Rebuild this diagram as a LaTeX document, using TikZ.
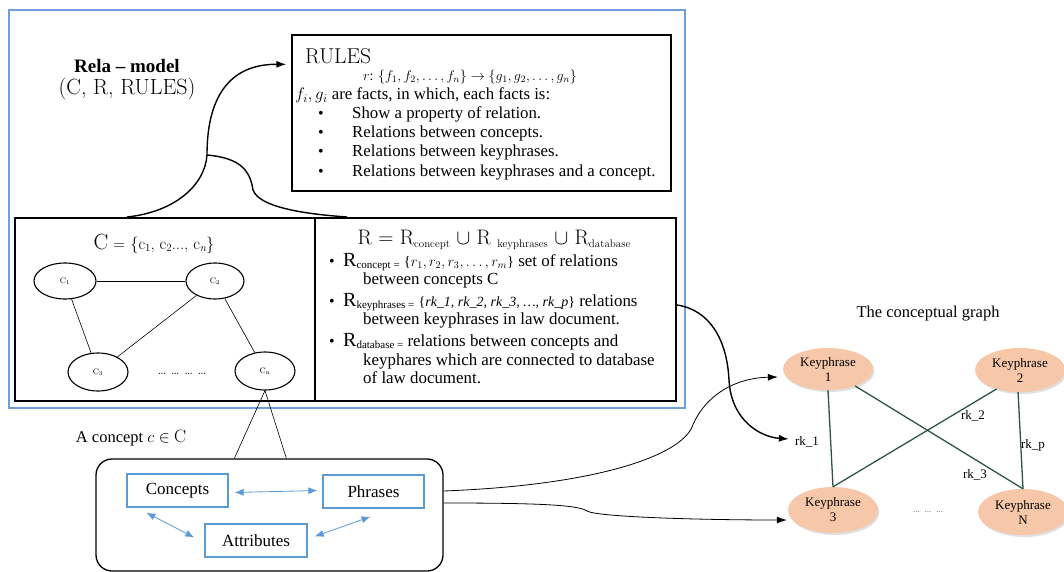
\RequirePackage{fix-cm}
\documentclass[tikz,border=0pt]{standalone}
\usepackage{fontspec}
\newfontfamily\tnr{Liberation Serif}
\usetikzlibrary{arrows.meta,calc,shadows,shapes.geometric}
\definecolor{outerblue}{RGB}{112,160,220}
\definecolor{boxblue}{RGB}{91,155,213}
\definecolor{peach}{RGB}{246,199,168}
\definecolor{edgegreen}{RGB}{46,84,74}
\newcommand{\fs}[1]{\fontsize{#1}{#1}\selectfont}
\newcommand{\lsub}[1]{\raisebox{-0.3ex}{\fs{11}#1}}
\begin{document}
\begin{tikzpicture}[x=1pt,y=-1pt,
  txt/.style={inner sep=0pt, text height=11pt, text depth=3pt, anchor=west, font=\tnr\fs{16.8}},
  rtxt/.style={inner sep=0pt, text height=11pt, text depth=3pt, anchor=west, font=\tnr\fs{16.9}},
  bul/.style={inner sep=0pt, text height=11pt, text depth=3pt, anchor=west, font=\tnr\fs{16}},
  blackbox/.style={draw=black, line width=1.3pt, inner sep=0pt},
  thickbox/.style={draw=black, line width=2pt, inner sep=0pt},
  cell/.style={ellipse, draw=black, line width=1.1pt, inner sep=0pt, font=\fs{8}},
  bbox/.style={draw=boxblue, line width=1.3pt, inner sep=0pt, minimum width=101pt, minimum height=33pt, font=\tnr\fs{17}},
  barrow/.style={draw=boxblue, line width=0.8pt, {Latex[length=9pt,width=7pt]}-{Latex[length=9pt,width=7pt]}},
  arr/.style={draw=black, line width=1.4pt, -{Latex[length=10pt,width=7pt]}},
  arrthin/.style={draw=black, line width=0.8pt, -{Latex[length=10pt,width=7pt]}},
  kp/.style={ellipse, fill=peach, inner sep=0pt, minimum width=90pt, align=center, font=\tnr\fontsize{13}{15}\selectfont,
     drop shadow={shadow xshift=1.5pt, shadow yshift=-2pt, opacity=0.25, fill=black!50}},
  kedge/.style={draw=edgegreen, line width=1.3pt},
  rl/.style={font=\tnr\fs{13}, inner sep=1pt}
]
\useasboundingbox (0,0) rectangle (1064,572);

% outer blue frame
\node[draw=outerblue, line width=1.5pt, minimum width=676pt, minimum height=398pt, inner sep=0pt] (outer) at (347,209) {};

% title
\node[font=\tnr\bfseries\fs{19}, inner sep=0pt] (rela) at (127,66) {Rela \textendash\ model};
\node[font=\fs{22}, inner sep=0pt] (crr) at (127,89) {(C, R, RULES)};

% RULES box
\node[blackbox, minimum width=379pt, minimum height=156pt] (rules) at (481.5,113) {};
\node[anchor=west, font=\fs{21.5}, inner sep=0pt] (rulest) at (305,56) {RULES};
\node[font=\tnr\fs{14}, inner sep=0pt] (rulef) at (470,77) {$r$: $\{f_1,f_2,\ldots,f_n\}\rightarrow\{g_1,g_2,\ldots,g_n\}$};
\node[txt] (fg) at (295,96) {$f_i,g_i$ are facts, in which, each facts is:};
\node[bul] (rb1) at (318,115) {\textbullet};
\node[txt] (rt1) at (352,115) {Show a property of relation.};
\node[bul] (rb2) at (318,134) {\textbullet};
\node[txt] (rt2) at (352,134) {Relations between concepts.};
\node[bul] (rb3) at (318,153) {\textbullet};
\node[txt] (rt3) at (352,153) {Relations between keyphrases.};
\node[bul] (rb4) at (318,172) {\textbullet};
\node[txt] (rt4) at (352,172) {Relations between keyphrases and a concept.};

% C box
\node[thickbox, minimum width=300pt, minimum height=183pt] (cbox) at (165,309.5) {};
\node[font=\fs{16.5}] (ctitle) at (154,244) {{\fs{22}C} = \{c\lsub{1}, c\lsub{2}..., c\lsub{\itshape n}\}};
\node[cell, minimum width=62pt, minimum height=36pt] (c1) at (65,281) {C\textsubscript{1}};
\node[cell, minimum width=58pt, minimum height=36pt] (c2) at (215,281) {C\textsubscript{2}};
\node[cell, minimum width=60pt, minimum height=38pt] (c3) at (98,372) {C\textsubscript{3}};
\node[cell, minimum width=60pt, minimum height=38pt] (cn) at (265,371) {C\textsubscript{n}};
\draw[line width=0.9pt] (c1) -- (c2);
\draw[line width=0.6pt] (c1) -- (c3);
\draw[line width=0.6pt] (c2) -- (c3);
\draw[line width=0.6pt] (c2) -- (cn);
\node[font=\fs{15}] (cdots) at (182,374) {\ldots\ \ldots\ \ldots\ \ldots};

% R box
\node[thickbox, minimum width=361pt, minimum height=183pt] (rbox) at (495.5,309.5) {};
\node[font=\fs{21}, inner sep=0pt] (rhead) at (494,240) {R = R\lsub{concept} $\cup$ R \lsub{keyphrases} $\cup$ R\lsub{database}};
\node[bul] (bb1) at (329,262) {\textbullet};
\node[rtxt] (r1) at (343,262) {{\fs{20}R}\lsub{concept =} {\fs{14.5}\{$r_1, r_2, r_3, \ldots, r_m$\}} set of relations};
\node[rtxt] (r2) at (363,280) {between concepts C};
\node[bul] (bb2) at (329,302) {\textbullet};
\node[rtxt] (r3) at (343,302) {{\fs{20}R}\lsub{keyphrases =} {\fs{14}\{\textit{rk\_1, rk\_2, rk\_3, \ldots, rk\_p}\}} relations};
\node[rtxt] (r4) at (363,320) {between keyphrases in law document.};
\node[bul] (bb3) at (329,342) {\textbullet};
\node[rtxt] (r5) at (343,342) {{\fs{20}R}\lsub{database =} relations between concepts and};
\node[rtxt] (r6) at (363,361) {keyphares which are connected to database};
\node[rtxt] (r7) at (363,379) {of law document.};

% connectors to RULES
\coordinate (J) at (207,155);
\draw[arr] ($(cbox.north west)+(113,0)$) .. controls (175,212) and (205,185) .. (J)
   .. controls (207,90) and (235,64) .. ($(rules.north west)+(-5,30)$);
\draw[line width=1.4pt] (J) .. controls (240,158) and (250,170) .. (253,190)
   .. controls (260,210) and (320,215) .. ($(rbox.north west)+(33,0)$);

% concept detail
\node[font=\tnr\fs{16.5}] (acon) at (131,438) {A concept $c \in$ {\rmfamily\fs{18}C}};
\node[draw=black, line width=1.3pt, rounded corners=16pt, minimum width=347pt, minimum height=112pt, inner sep=0pt] (cpt) at (269.5,515) {};
\draw[line width=0.6pt] (cn.south) -- ($(cpt.north west)+(139,0)$);
\draw[line width=0.6pt] (cn.south) -- ($(cpt.north west)+(191,0)$);
\node[bbox] (concepts) at (177.5,490.5) {Concepts};
\node[bbox] (phrases) at (373.5,491.5) {Phrases};
\node[bbox, minimum width=102pt] (attributes) at (256,540.5) {Attributes};
\draw[barrow] ($(concepts.east)+(6,2)$) -- ($(phrases.west)+(-5,-1)$);
\draw[barrow] ($(concepts.south west)+(20,5)$) -- ($(attributes.west)+(-10,-3)$);
\draw[barrow] ($(phrases.south)+(-3,8)$) -- ($(attributes.east)+(7,-4)$);

% conceptual graph
\node[font=\tnr\fs{16.5}] (cg) at (928,314) {The conceptual graph};
\node[kp, minimum height=42pt] (k1) at (828,369) {Keyphrase\\1};
\node[kp, minimum height=44pt] (k2) at (1020,370) {Keyphrase\\2};
\node[kp, minimum height=46pt] (k3) at (833,510) {Keyphrase\\3};
\node[kp, minimum height=46pt] (kN) at (1023,512) {Keyphrase\\N};
\draw[kedge] (k1.south) -- (k3.north);
\draw[kedge] (k1.-32) -- (kN.north);
\draw[kedge] (k2.-141) -- (k3.north);
\draw[kedge] (k2.-95) -- (kN.north);
\node[rl] (rk1) at (807,442) {rk\_1};
\node[rl] (rk2) at (973,416) {rk\_2};
\node[rl] (rkp) at (1033,445) {rk\_p};
\node[rl] (rk3) at (975,475) {rk\_3};
\node[font=\fs{12}, text=gray] (kdots) at (928,512) {\ldots\ \ldots\ \ldots};

% long connectors
\draw[arr] ($(rbox.east)+(0,-4.5)$) .. controls (710,310) and (727,340) .. (729,380)
   .. controls (731,420) and (760,437) .. ($(rk1.west)+(-5,-3)$);
\draw[arrthin] ($(cpt.east)+(0,-24)$) .. controls (600,485) and (680,455) .. (692,427)
   .. controls (705,395) and (735,378) .. ($(k1.west)+(-5,8)$);
\draw[arrthin] ($(cpt.east)+(0,-12)$) .. controls (540,503) and (578,505) .. (587,511)
   .. controls (597,517) and (700,520) .. ($(k3.west)+(-1,10)$);
\end{tikzpicture}
\end{document}
